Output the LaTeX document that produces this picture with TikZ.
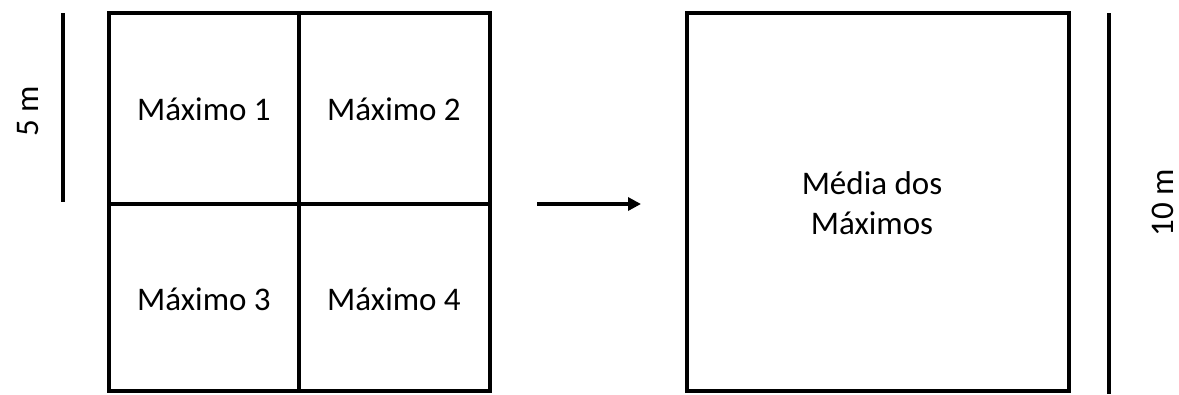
\documentclass[tikz,border=0pt]{standalone}
\usepackage{fontspec}
\setmainfont{Carlito}
\usetikzlibrary{arrows.meta}
\begin{document}
\begin{tikzpicture}[x=1pt,y=-1pt,
  wall/.style={line width=4pt,line cap=rect},
  bar/.style={line width=4pt},
  lbl/.style={font=\fontsize{33}{40}\selectfont,align=center,inner sep=0pt},
  flow/.style={line width=4pt,-{Triangle[length=13pt,width=13pt]}}]
\useasboundingbox (0,0) rectangle (1179,394);
% left plot split into four sub-plots
\coordinate (gA) at (109,13);
\coordinate (gB) at (490,391);
\draw[wall] (gA) rectangle (gB);
\draw[wall] (299,13) -- (299,391);
\draw[wall] (109,204) -- (490,204);
\node[lbl] (m1) at (204,109) {Máximo 1};
\node[lbl] (m2) at (394,109) {Máximo 2};
\node[lbl] (m3) at (204,299) {Máximo 3};
\node[lbl] (m4) at (394,299) {Máximo 4};
% 5 m scale bar
\coordinate (s1a) at (63,13);
\coordinate (s1b) at (63,202);
\draw[bar] (s1a) -- (s1b);
\node[lbl,rotate=90] (s1) at (28,111) {5 m};
% arrow
\coordinate (aa) at (537,204);
\coordinate (ab) at (641,204);
\draw[flow] (aa) -- (ab);
% right plot
\coordinate (rA) at (687,13);
\coordinate (rB) at (1069,391);
\draw[wall] (rA) rectangle (rB);
\node[lbl] (avg) at (872,203) {Média dos\\Máximos};
% 10 m scale bar
\coordinate (s2a) at (1109,13);
\coordinate (s2b) at (1109,394);
\draw[bar] (s2a) -- (s2b);
\node[lbl,rotate=90] (s2) at (1163,203) {10 m};
\end{tikzpicture}
\end{document}
